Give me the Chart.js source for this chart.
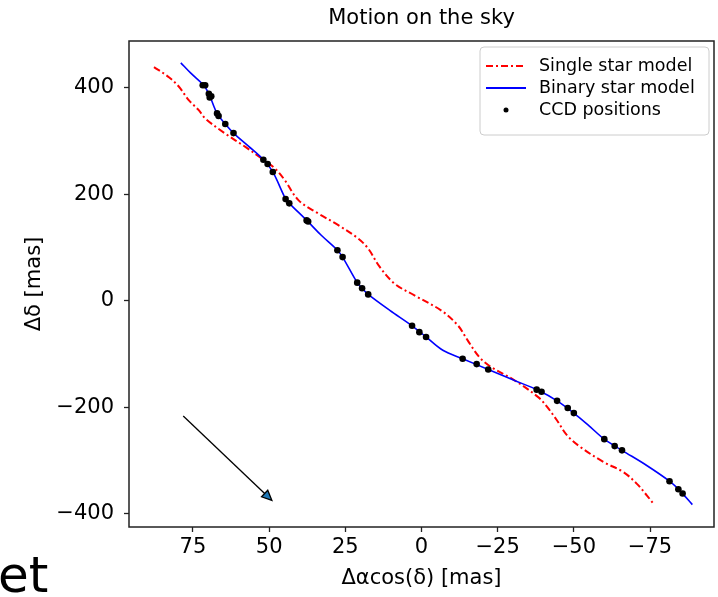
<!DOCTYPE html>
<html>
<head>
<meta charset="utf-8">
<title>Motion on the sky</title>
<script src="https://cdn.jsdelivr.net/npm/chart.js@4.4.1/dist/chart.umd.min.js"></script>
<style>
    body { margin: 0; background: #fff; }
    #wrap { width: 718px; height: 597px; position: relative; }
</style>
</head>
<body>
<div id="wrap"><canvas id="skyChart"></canvas></div>
<script>
// Single star model (red dash-dot)
const singleX = [87.8, 82.9, 79.6, 76.4, 73.1, 70.9, 64.4, 57.8, 52.4, 48.0, 44.8, 40.4, 33.9, 27.3, 20.8, 17.5, 13.7, 8.8, 2.3, -6.4, -11.9, -15.1, -19.0, -22.7, -30.4, -38.5, -41.3, -44.5, -47.8, -52.2, -59.8, -66.3, -70.7, -74.0, -76.1];
const singleY = [439, 420, 402, 377, 358, 342, 314, 289, 267, 248, 226, 189, 164, 142, 117, 98, 63.5, 32, 10, -18, -46, -74, -106, -124, -149, -182, -200, -225, -253, -275, -303, -322, -344, -366, -381];

// Binary star model (blue)
const binaryX = [79.0, 75.8, 71.5, 69.8, 67.1, 64.4, 61.7, 56.7, 51.9, 48.8, 44.6, 43.4, 37.5, 32.9, 27.6, 25.9, 21.1, 19.5, 17.5, 10.4, 3.1, -1.5, -7.0, -13.5, -21.9, -29.8, -38.6, -44.5, -50.0, -55.0, -60.0, -65.8, -73.8, -81.4, -85.0, -88.9];
const binaryY = [447, 428, 405, 389, 352, 332, 315, 290, 265, 242, 191, 183, 150, 123, 95, 82, 34, 23.5, 12, -18, -47, -68, -93, -109, -129, -148, -169, -188, -211, -235, -260, -281, -309, -339, -358, -383];

// CCD positions (black dots)
const ccdX = [71.8, 71.0, 69.8, 69.5, 69.0, 67.1, 66.6, 64.4, 61.7, 51.9, 50.5, 48.8, 44.6, 43.4, 37.7, 37.2, 27.6, 25.9, 21.1, 19.5, 17.5, 3.1, 0.7, -1.5, -13.5, -18.1, -21.9, -37.8, -39.4, -44.5, -48.0, -50.0, -60.0, -63.4, -65.8, -81.4, -84.3, -85.7];
const ccdY = [405, 405, 389, 382, 384, 352, 347, 332, 315, 265, 257, 242, 191, 183, 151, 149, 95, 82, 34, 23.5, 12, -47, -59, -68, -109, -119, -129, -167, -171, -188, -201.5, -211, -260, -273, -281, -339, -354, -362];

// Proper motion arrow (tail, head)
const arrowFrom = [78.2, -216.5];
const arrowTo = [49.1, -375];

const xTicks = [75, 50, 25, 0, -25, -50, -75];
const yTicks = [-400, -200, 0, 200, 400];

const FONT = "'DejaVu Sans', 'Liberation Sans', sans-serif";
Chart.defaults.font.family = FONT;
Chart.defaults.color = '#000';

function toPoints(xs, ys) {
    return xs.map((x, i) => ({ x: x, y: ys[i] }));
}

function minus(v) {
    return String(v).replace('-', '\u2212');
}

// Title, frame, arrow, legend and the stray text fragment
const skyExtras = {
    id: 'skyExtras',
    afterDatasetsDraw(chart) {
        const { ctx, scales } = chart;
        const x0 = scales.x.getPixelForValue(arrowFrom[0]);
        const y0 = scales.y.getPixelForValue(arrowFrom[1]);
        const x1 = scales.x.getPixelForValue(arrowTo[0]);
        const y1 = scales.y.getPixelForValue(arrowTo[1]);
        const ang = Math.atan2(y1 - y0, x1 - x0);
        const headLen = 10, headW = 4.5;
        const bx = x1 - headLen * Math.cos(ang);
        const by = y1 - headLen * Math.sin(ang);
        ctx.save();
        ctx.strokeStyle = '#000';
        ctx.lineWidth = 1.3;
        ctx.beginPath();
        ctx.moveTo(x0, y0);
        ctx.lineTo(bx, by);
        ctx.stroke();
        ctx.beginPath();
        ctx.moveTo(x1, y1);
        ctx.lineTo(bx + headW * Math.sin(ang), by - headW * Math.cos(ang));
        ctx.lineTo(bx - headW * Math.sin(ang), by + headW * Math.cos(ang));
        ctx.closePath();
        ctx.fillStyle = '#1f77b4';
        ctx.fill();
        ctx.stroke();
        ctx.restore();
    },
    afterDraw(chart) {
        const { ctx, chartArea } = chart;
        const { left, right, top, bottom } = chartArea;
        ctx.save();

        // frame
        ctx.strokeStyle = '#222';
        ctx.lineWidth = 1.5;
        ctx.strokeRect(left, top, right - left, bottom - top);

        // title centred over the axes
        ctx.fillStyle = '#000';
        ctx.font = '21px ' + FONT;
        ctx.textAlign = 'center';
        ctx.textBaseline = 'middle';
        ctx.fillText('Motion on the sky', (left + right) / 2, 19);

        // legend
        const lx = 480, ly = 47, lw = 229, lh = 88;
        ctx.beginPath();
        ctx.roundRect(lx, ly, lw, lh, 4);
        ctx.fillStyle = 'rgba(255,255,255,0.8)';
        ctx.fill();
        ctx.strokeStyle = '#cccccc';
        ctx.lineWidth = 1;
        ctx.stroke();

        const rows = [66, 88, 110];
        const ds = chart.data.datasets;
        ctx.lineWidth = 2;
        ctx.strokeStyle = ds[0].borderColor;
        ctx.setLineDash(ds[0].borderDash);
        ctx.beginPath();
        ctx.moveTo(486, rows[0]);
        ctx.lineTo(526, rows[0]);
        ctx.stroke();
        ctx.setLineDash([]);
        ctx.strokeStyle = ds[1].borderColor;
        ctx.lineWidth = 1.8;
        ctx.beginPath();
        ctx.moveTo(486, rows[1]);
        ctx.lineTo(526, rows[1]);
        ctx.stroke();
        ctx.fillStyle = '#000';
        ctx.beginPath();
        ctx.arc(506, rows[2], 2.5, 0, Math.PI * 2);
        ctx.fill();

        ctx.font = '17.5px ' + FONT;
        ctx.textAlign = 'left';
        ds.forEach((d, i) => ctx.fillText(d.label, 539, rows[i]));

        // cropped word fragment at bottom left
        ctx.font = '50px ' + FONT;
        ctx.textBaseline = 'alphabetic';
        ctx.fillText('et', -2, 592);
        ctx.restore();
    }
};

function initSkyChart() {
    const ctx = document.getElementById('skyChart').getContext('2d');
    new Chart(ctx, {
        type: 'scatter',
        data: {
            datasets: [{
                label: 'Single star model',
                data: toPoints(singleX, singleY),
                showLine: true,
                borderColor: '#ff0000',
                borderWidth: 2,
                borderDash: [7, 3, 2, 3],
                tension: 0.35,
                pointRadius: 0,
                order: 3
            }, {
                label: 'Binary star model',
                data: toPoints(binaryX, binaryY),
                showLine: true,
                borderColor: '#0000ff',
                borderWidth: 1.6,
                tension: 0.35,
                pointRadius: 0,
                order: 2
            }, {
                label: 'CCD positions',
                data: toPoints(ccdX, ccdY),
                showLine: false,
                pointRadius: 3.3,
                pointBackgroundColor: '#000',
                pointBorderColor: '#000',
                pointBorderWidth: 0,
                order: 1
            }]
        },
        options: {
            responsive: true,
            maintainAspectRatio: false,
            animation: false,
            layout: { padding: { top: 41, right: 2, left: 0, bottom: 0 } },
            plugins: {
                legend: { display: false },
                title: { display: false },
                tooltip: { enabled: false }
            },
            scales: {
                x: {
                    type: 'linear',
                    reverse: true,
                    min: -96,
                    max: 96,
                    afterBuildTicks: scale => { scale.ticks = xTicks.map(v => ({ value: v })); },
                    afterFit: scale => { scale.height = 70; },
                    grid: { drawOnChartArea: false, drawTicks: true, tickLength: 5, tickColor: '#222', tickWidth: 1.3 },
                    border: { display: false },
                    ticks: {
                        padding: 3,
                        maxRotation: 0,
                        font: { size: 21 },
                        color: '#000',
                        callback: v => minus(v)
                    },
                    title: {
                        display: true,
                        text: 'Δαcos(δ) [mas]',
                        font: { size: 21 },
                        color: '#000',
                        padding: { top: 6, bottom: 6 }
                    }
                },
                y: {
                    type: 'linear',
                    min: -425,
                    max: 488,
                    afterBuildTicks: scale => { scale.ticks = yTicks.map(v => ({ value: v })); },
                    afterFit: scale => { scale.width = 129; },
                    grid: { drawOnChartArea: false, drawTicks: true, tickLength: 5, tickColor: '#222', tickWidth: 1.3 },
                    border: { display: false },
                    ticks: {
                        padding: 10,
                        font: { size: 21 },
                        color: '#000',
                        callback: v => minus(v)
                    },
                    title: {
                        display: true,
                        text: 'Δδ [mas]',
                        font: { size: 21 },
                        color: '#000',
                        padding: { top: 22, bottom: 0 }
                    }
                }
            }
        },
        plugins: [skyExtras]
    });
}

document.addEventListener('DOMContentLoaded', function() {
    initSkyChart();
});
</script>
</body>
</html>
